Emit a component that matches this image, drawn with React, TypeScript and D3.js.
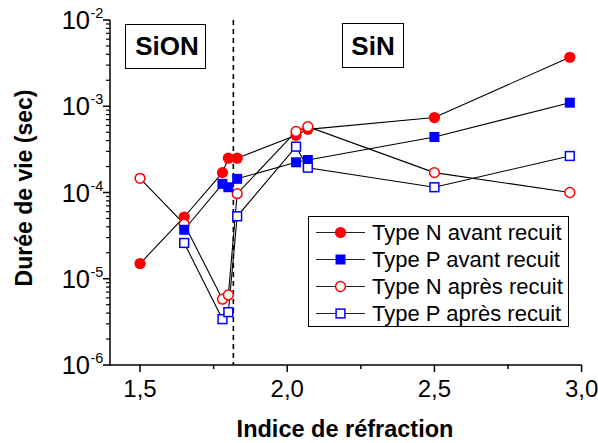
import React from "react";
import * as d3 from "d3";

// ---- data ----
const nAvantX = [1.5, 1.65, 1.78, 1.8, 1.83, 2.03, 2.07, 2.5, 2.96];
const nAvantY = [1.5e-5, 5.2e-5, 1.7e-4, 2.5e-4, 2.5e-4, 4.6e-4, 5.4e-4, 7.4e-4, 3.7e-3];
const pAvantX = [1.65, 1.78, 1.8, 1.83, 2.03, 2.07, 2.5, 2.96];
const pAvantY = [3.7e-5, 1.26e-4, 1.15e-4, 1.44e-4, 2.24e-4, 2.38e-4, 4.4e-4, 1.1e-3];
const nApresX = [1.5, 1.65, 1.78, 1.8, 1.83, 2.03, 2.07, 2.5, 2.96];
const nApresY = [1.46e-4, 4.3e-5, 5.8e-6, 6.5e-6, 9.7e-5, 5.1e-4, 5.8e-4, 1.7e-4, 1.0e-4];
const pApresX = [1.65, 1.78, 1.8, 1.83, 2.03, 2.07, 2.5, 2.96];
const pApresY = [2.6e-5, 3.4e-6, 4.1e-6, 5.3e-5, 3.4e-4, 1.94e-4, 1.15e-4, 2.65e-4];

const seriesNames = ["Type N avant recuit", "Type P avant recuit", "Type N après recuit", "Type P après recuit"];
const xTicks = [1.5, 2.0, 2.5, 3.0];
const xTickLabels = ["1,5", "2,0", "2,5", "3,0"];
const xMinorTicks = [1.75, 2.25, 2.75];
const yDecades = [-6, -5, -4, -3, -2];
const separatorX = 1.817;
const regionLabels = ["SiON", "SiN"];
const xTitle = "Indice de réfraction";
const yTitle = "Durée de vie (sec)";

const FONT = "'Liberation Sans', Arial, Helvetica, sans-serif";

type Marker = "circleFilled" | "squareFilled" | "circleOpen" | "squareOpen";

function MarkerShape({ kind, cx, cy }: { kind: Marker; cx: number; cy: number }) {
  if (kind === "circleFilled") return <circle cx={cx} cy={cy} r={5.6} fill="#ff0000" />;
  if (kind === "circleOpen")
    return <circle cx={cx} cy={cy} r={4.9} fill="#ffffff" stroke="#ff0000" strokeWidth={1.5} />;
  if (kind === "squareFilled") return <rect x={cx - 5} y={cy - 5} width={10} height={10} fill="#0000ff" />;
  return <rect x={cx - 4.4} y={cy - 4.4} width={8.8} height={8.8} fill="#ffffff" stroke="#0000ff" strokeWidth={1.5} />;
}

export default function App() {
  const W = 598, H = 443;
  const x = d3.scaleLinear().domain([1.4, 3.0]).range([110.6, 581.6]);
  const y = d3.scaleLog().domain([1e-6, 1e-2]).range([365, 20]);
  const line = d3
    .line<[number, number]>()
    .x((d) => x(d[0]))
    .y((d) => y(d[1]));

  const series: { xs: number[]; ys: number[]; marker: Marker; name: string }[] = [
    { xs: nAvantX, ys: nAvantY, marker: "circleFilled", name: seriesNames[0] },
    { xs: pAvantX, ys: pAvantY, marker: "squareFilled", name: seriesNames[1] },
    { xs: nApresX, ys: nApresY, marker: "circleOpen", name: seriesNames[2] },
    { xs: pApresX, ys: pApresY, marker: "squareOpen", name: seriesNames[3] },
  ];
  const drawOrder = [0, 2, 1, 3];

  const minor: number[] = [];
  yDecades.slice(0, -1).forEach((e) => {
    for (let k = 2; k <= 9; k++) minor.push(k * Math.pow(10, e));
  });

  const x0 = 110;
  const yb = 365;

  const legendX = 308, legendY = 216, legendW = 260, legendH = 110;
  const rowY = [232.5, 259.5, 286.5, 313.5];

  return (
    <svg width={W} height={H} style={{ position: "absolute", left: 0, top: 0, background: "#fff" }} fontFamily={FONT}>
      <rect x={0} y={0} width={W} height={H} fill="#fff" />

      {/* dashed separator */}
      <line x1={x(separatorX)} x2={x(separatorX)} y1={y(1e-2)} y2={yb} stroke="#000" strokeWidth={1.6} strokeDasharray="5,4" />

      {/* series lines */}
      {series.map((s, i) => (
        <path key={"l" + i} d={line(s.xs.map((v, j) => [v, s.ys[j]]) as [number, number][]) || ""} fill="none" stroke="#000" strokeWidth={1.1} />
      ))}
      {/* markers */}
      {drawOrder.map((i) => {
        const s = series[i];
        return (
          <g key={"m" + i}>
            {s.xs.map((v, j) => (
              <MarkerShape key={j} kind={s.marker} cx={x(v)} cy={y(s.ys[j])} />
            ))}
          </g>
        );
      })}

      {/* axes */}
      <line x1={x0} x2={x0} y1={y(1e-2)} y2={yb + 0.75} stroke="#000" strokeWidth={1.5} />
      <line x1={x0 - 0.75} x2={x(3.0)} y1={yb} y2={yb} stroke="#000" strokeWidth={1.5} />

      {/* x ticks */}
      {xTicks.map((t, i) => (
        <g key={"xt" + i}>
          <line x1={x(t)} x2={x(t)} y1={yb} y2={yb + 7} stroke="#000" strokeWidth={1.5} />
          <text x={x(t)} y={397} textAnchor="middle" fontSize={24} fill="#000">
            {xTickLabels[i]}
          </text>
        </g>
      ))}
      {xMinorTicks.map((t, i) => (
        <line key={"xm" + i} x1={x(t)} x2={x(t)} y1={yb} y2={yb + 4} stroke="#000" strokeWidth={1.5} />
      ))}

      {/* y ticks */}
      {yDecades.map((e) => {
        const yy = y(Math.pow(10, e));
        return (
          <g key={"yt" + e}>
            <line x1={x0 - 7} x2={x0} y1={yy} y2={yy} stroke="#000" strokeWidth={1.5} />
            <text x={90} y={yy + 9} textAnchor="end" fontSize={25.5} fill="#000">
              10
            </text>
            <text x={90.5} y={yy - 2} textAnchor="start" fontSize={14.5} fill="#000">
              {"-" + Math.abs(e)}
            </text>
          </g>
        );
      })}
      {minor.map((v, i) => (
        <line key={"ym" + i} x1={x0 - 4} x2={x0} y1={y(v)} y2={y(v)} stroke="#000" strokeWidth={1.2} />
      ))}

      {/* region labels */}
      <rect x={125.5} y={24.5} width={80} height={44} fill="#fff" stroke="#000" strokeWidth={1} />
      <text x={167} y={55} textAnchor="middle" fontSize={26} fontWeight="bold" fill="#000">
        {regionLabels[0]}
      </text>
      <rect x={342.5} y={23.5} width={61} height={44} fill="#fff" stroke="#000" strokeWidth={1} />
      <text x={373} y={55} textAnchor="middle" fontSize={26} fontWeight="bold" fill="#000">
        {regionLabels[1]}
      </text>

      {/* legend */}
      <rect x={legendX + 0.5} y={legendY + 0.5} width={legendW} height={legendH} fill="#fff" stroke="#000" strokeWidth={1} />
      {series.map((s, i) => (
        <g key={"lg" + i}>
          <line x1={316} x2={365} y1={rowY[i]} y2={rowY[i]} stroke="#222" strokeWidth={1} />
          <MarkerShape kind={s.marker} cx={340.5} cy={rowY[i]} />
          <text x={372} y={rowY[i] + 7.5} fontSize={22} fill="#000">
            {s.name}
          </text>
        </g>
      ))}

      {/* axis titles */}
      <text x={345} y={437} textAnchor="middle" fontSize={23.5} fontWeight="bold" fill="#000">
        {xTitle}
      </text>
      <text transform="translate(32,188) rotate(-90)" textAnchor="middle" fontSize={23} fontWeight="bold" fill="#000">
        {yTitle}
      </text>
    </svg>
  );
}
